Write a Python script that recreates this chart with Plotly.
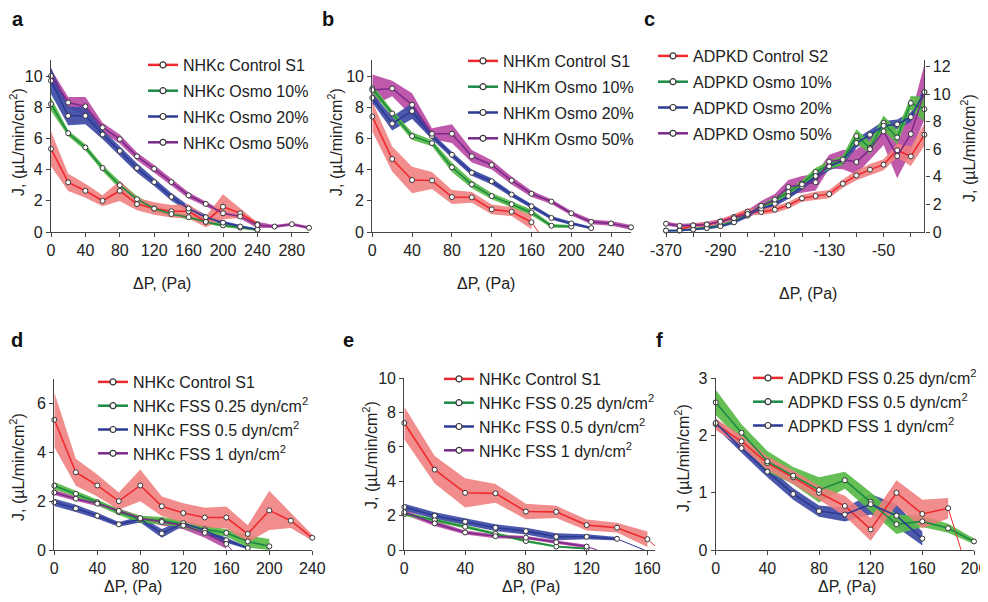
import plotly.graph_objects as go

# ---- data ----
dp_pos = [0, 20, 40, 60, 80, 100, 120, 140, 160, 180, 200, 220, 240, 260, 280, 300]
dp_neg = [-370, -350, -330, -310, -290, -270, -250, -230, -210, -190,
          -170, -150, -130, -110, -90, -70, -50, -30, -10, 10]

# NHKc control S1 (panels a and d)
nhkc_ctrl = [5.33, 3.18, 2.64, 2.0, 2.64, 1.79, 1.51, 1.33, 1.33, 0.66, 1.62, 1.2, 0.5]
nhkc_ctrl_err = [1.12, 0.55, 0.45, 0.35, 0.65, 0.4, 0.4, 0.4, 0.45, 0.35, 0.8, 0.3, 0.12]
# NHKm control S1 (panels b and e)
nhkm_ctrl = [7.4, 4.68, 3.33, 3.3, 2.24, 2.22, 1.45, 1.3, 0.63]
nhkm_ctrl_err = [0.95, 0.8, 0.85, 0.55, 0.45, 0.35, 0.32, 0.28, 0.45]

# a
a_osmo10 = [8.2, 6.33, 5.42, 4.1, 3.0, 2.1, 1.5, 1.15, 0.95, 0.65, 0.42, 0.28, 0.15]
a_osmo10_err = [0.42, 0.2, 0.2, 0.2, 0.25, 0.2, 0.2, 0.15, 0.15, 0.12, 0.1, 0.1, 0.08]
a_osmo20 = [9.7, 7.45, 7.45, 6.25, 5.2, 4.1, 3.2, 2.25, 1.5, 0.95, 0.6, 0.35, 0.15]
a_osmo20_err = [0.85, 0.6, 0.55, 0.3, 0.3, 0.3, 0.25, 0.25, 0.2, 0.15, 0.12, 0.1, 0.08]
a_osmo50 = [10.0, 8.3, 8.05, 6.7, 5.95, 4.85, 4.05, 3.2, 2.35, 1.8, 1.2, 1.0, 0.45, 0.35, 0.5, 0.27]
a_osmo50_err = [0.45, 0.35, 0.6, 0.3, 0.3, 0.25, 0.25, 0.2, 0.2, 0.15, 0.15, 0.15, 0.2, 0.1, 0.1, 0.1]

# b
b_osmo10 = [9.2, 7.6, 6.15, 5.7, 4.15, 3.05, 2.3, 1.78, 1.25, 0.4, 0.35]
b_osmo10_err = [0.25, 0.2, 0.25, 0.2, 0.3, 0.25, 0.2, 0.2, 0.2, 0.12, 0.1]
b_osmo20 = [8.6, 6.95, 7.75, 6.15, 4.95, 3.8, 3.25, 2.4, 1.65, 0.9, 0.55, 0.25]
b_osmo20_err = [0.3, 0.45, 0.5, 0.2, 0.2, 0.2, 0.2, 0.15, 0.15, 0.12, 0.1, 0.08]
b_osmo50 = [9.1, 9.2, 8.15, 6.3, 6.3, 4.85, 4.3, 3.3, 2.45, 1.95, 1.2, 0.65, 0.55, 0.3]
b_osmo50_err = [1.0, 0.5, 0.75, 0.35, 0.6, 0.4, 0.3, 0.25, 0.2, 0.15, 0.15, 0.15, 0.15, 0.15]

# c (ADPKD, negative pressure); control starts at -350
c_ctrl = [0.17, 0.48, 0.53, 0.77, 1.09, 1.47, 1.45, 1.62, 1.93, 2.44, 2.61, 2.75, 3.5, 4.1, 4.52, 4.88, 5.92, 5.48, 7.05]
c_ctrl_err = [0.1, 0.12, 0.15, 0.15, 0.2, 0.25, 0.2, 0.25, 0.25, 0.25, 0.3, 0.3, 0.3, 0.35, 0.4, 0.4, 0.5, 0.7, 0.8]
c_osmo10 = [0.1, 0.12, 0.22, 0.3, 0.46, 0.75, 1.3, 1.85, 2.3, 2.9, 3.5, 4.35, 4.85, 5.2, 6.95, 6.1, 7.9, 6.85, 9.35, 8.9]
c_osmo10_err = [0.05, 0.05, 0.08, 0.1, 0.1, 0.12, 0.15, 0.15, 0.2, 0.2, 0.25, 0.3, 0.3, 0.35, 0.5, 0.45, 0.55, 0.5, 0.5, 0.9]
c_osmo20 = [0.1, 0.1, 0.18, 0.28, 0.42, 0.7, 1.2, 1.7, 2.05, 2.6, 3.3, 4.05, 4.76, 5.15, 6.45, 7.05, 7.7, 7.8, 8.33, 10.14]
c_osmo20_err = [0.05, 0.05, 0.08, 0.1, 0.1, 0.12, 0.15, 0.15, 0.2, 0.2, 0.25, 0.25, 0.3, 0.3, 0.35, 0.35, 0.35, 0.35, 0.35, 0.3]
c_osmo50 = [0.6, 0.45, 0.48, 0.55, 0.75, 1.0, 1.3, 1.9, 2.35, 3.26, 3.45, 3.6, 5.1, 5.25, 5.07, 6.0, 7.3, 5.5, 7.1, 10.14]
c_osmo50_err = [0.15, 0.15, 0.15, 0.2, 0.2, 0.25, 0.3, 0.35, 0.4, 0.5, 0.6, 0.6, 0.5, 0.7, 0.9, 0.8, 1.0, 1.6, 1.3, 2.0]

# d
d_fss025 = [2.63, 2.3, 1.95, 1.55, 1.25, 1.2, 1.05, 0.85, 0.7, 0.35, 0.15]
d_fss025_err = [0.15, 0.12, 0.12, 0.12, 0.15, 0.15, 0.15, 0.15, 0.15, 0.25, 0.3]
d_fss05 = [1.95, 1.7, 1.4, 1.05, 1.25, 0.68, 1.1, 0.8, 0.4, 0.08]
d_fss05_err = [0.15, 0.15, 0.12, 0.1, 0.12, 0.18, 0.12, 0.1, 0.1, 0.05]
d_fss1 = [2.35, 2.1, 1.9, 1.6, 1.3, 1.15, 1.0, 0.7, 0.25]
d_fss1_err = [0.1, 0.1, 0.1, 0.1, 0.1, 0.15, 0.15, 0.2, 0.2]

# e
e_fss025 = [2.1, 1.75, 1.35, 0.95, 0.52, 0.2, 0.08]
e_fss025_err = [0.12, 0.1, 0.1, 0.08, 0.08, 0.06, 0.05]
e_fss05 = [2.5, 2.0, 1.65, 1.3, 1.1, 0.77, 0.77, 0.65]
e_fss05_err = [0.2, 0.2, 0.2, 0.2, 0.2, 0.2, 0.15, 0.1]
e_fss1 = [2.2, 1.55, 1.02, 0.8, 0.72, 0.45, 0.2]
e_fss1_err = [0.15, 0.15, 0.12, 0.12, 0.1, 0.1, 0.1]

# f
f_fss025 = [2.2, 1.9, 1.52, 1.27, 1.0, 0.77, 0.36, 1.0, 0.63, 0.73]
f_fss025_err = [0.1, 0.1, 0.12, 0.12, 0.12, 0.18, 0.2, 0.22, 0.25, 0.18]
f_fss05 = [2.58, 2.05, 1.55, 1.3, 1.05, 1.22, 0.84, 0.45, 0.5, 0.38, 0.15]
f_fss05_err = [0.22, 0.15, 0.18, 0.15, 0.22, 0.15, 0.17, 0.17, 0.1, 0.08, 0.05]
f_fss1 = [2.22, 1.78, 1.37, 0.98, 0.68, 0.62, 0.8, 0.6, 0.2]
f_fss1_err = [0.08, 0.08, 0.1, 0.1, 0.1, 0.12, 0.18, 0.2, 0.12]

# x where the thin trailing line reaches zero
b_ctrl_tail = 167
d_fss1_tail = 165
e_ctrl_tail = 168
e_fss05_tail = 158
e_fss1_tail = 127
f_fss025_tail = 190

c_ticks = [-370, -290, -210, -130, -50]

# ---- styling ----
RED = ('#EE2A2F', 'rgba(240,125,125,0.88)')
GREEN = ('#1B8A44', 'rgba(88,186,70,0.92)')
BLUE = ('#2D3A96', 'rgba(60,74,165,0.92)')
PURPLE = ('#7A2A8A', 'rgba(182,66,160,0.88)')
FONT = 'Liberation Sans, Arial, sans-serif'
TXT = '#222'
# the page body has an 8px margin, so the figure is drawn 8px in and made that much smaller
OFF = 8
W, H = 988 - OFF, 602 - OFF

fig = go.Figure()


def px_x(p):
    return (p - OFF) / W


def px_y(p):
    return 1 - (p - OFF) / H


def band(ax, x, y, err, col):
    hi = [v + e for v, e in zip(y, err)]
    lo = [max(v - e, 0) for v, e in zip(y, err)]
    fig.add_trace(go.Scatter(x=x + x[::-1], y=hi + lo[::-1], fill='toself',
                             fillcolor=col[1], line=dict(width=0), mode='lines',
                             hoverinfo='skip', showlegend=False,
                             xaxis='x' + ax, yaxis='y' + ax))


def line(ax, x, y, col, tail=None):
    if tail is not None:
        fig.add_trace(go.Scatter(x=[x[-1], tail], y=[y[-1], 0], mode='lines',
                                 line=dict(color=col[0], width=1), showlegend=False,
                                 xaxis='x' + ax, yaxis='y' + ax))
    fig.add_trace(go.Scatter(x=x, y=y, mode='lines+markers', cliponaxis=False,
                             line=dict(color=col[0], width=1.6),
                             marker=dict(size=5, color='white', line=dict(color='#333', width=1)),
                             showlegend=False, xaxis='x' + ax, yaxis='y' + ax))


def legend_item(ax, name, col, leg):
    fig.add_trace(go.Scatter(x=[None], y=[None], mode='lines+markers', name=name,
                             line=dict(color=col[0], width=2.5),
                             marker=dict(size=6, color='white', line=dict(color='#333', width=1.2)),
                             legend=leg, legendgroup=leg + name,
                             xaxis='x' + ax, yaxis='y' + ax))


def xs_for(xs, y):
    # positive-pressure series start at 0; negative-pressure series end at the last value
    if xs is dp_pos:
        return xs[:len(y)]
    return xs[len(xs) - len(y):]


panels = [
    ('', dp_pos, [
        (nhkc_ctrl, nhkc_ctrl_err, RED, None, 'NHKc Control S1'),
        (a_osmo10, a_osmo10_err, GREEN, None, 'NHKc Osmo 10%'),
        (a_osmo20, a_osmo20_err, BLUE, None, 'NHKc Osmo 20%'),
        (a_osmo50, a_osmo50_err, PURPLE, None, 'NHKc Osmo 50%')], 'legend'),
    ('2', dp_pos, [
        (nhkm_ctrl, nhkm_ctrl_err, RED, b_ctrl_tail, 'NHKm Control S1'),
        (b_osmo10, b_osmo10_err, GREEN, None, 'NHKm Osmo 10%'),
        (b_osmo20, b_osmo20_err, BLUE, None, 'NHKm Osmo 20%'),
        (b_osmo50, b_osmo50_err, PURPLE, None, 'NHKm Osmo 50%')], 'legend2'),
    ('3', dp_neg, [
        (c_ctrl, c_ctrl_err, RED, None, 'ADPKD Control S2'),
        (c_osmo10, c_osmo10_err, GREEN, None, 'ADPKD Osmo 10%'),
        (c_osmo20, c_osmo20_err, BLUE, None, 'ADPKD Osmo 20%'),
        (c_osmo50, c_osmo50_err, PURPLE, None, 'ADPKD Osmo 50%')], 'legend3'),
    ('4', dp_pos, [
        (nhkc_ctrl, nhkc_ctrl_err, RED, None, 'NHKc Control S1'),
        (d_fss025, d_fss025_err, GREEN, None, 'NHKc FSS 0.25 dyn/cm<sup>2</sup>'),
        (d_fss05, d_fss05_err, BLUE, None, 'NHKc FSS 0.5 dyn/cm<sup>2</sup>'),
        (d_fss1, d_fss1_err, PURPLE, d_fss1_tail, 'NHKc FSS 1 dyn/cm<sup>2</sup>')], 'legend4'),
    ('5', dp_pos, [
        (nhkm_ctrl, nhkm_ctrl_err, RED, e_ctrl_tail, 'NHKc Control S1'),
        (e_fss025, e_fss025_err, GREEN, None, 'NHKc FSS 0.25 dyn/cm<sup>2</sup>'),
        (e_fss05, e_fss05_err, BLUE, e_fss05_tail, 'NHKc FSS 0.5 dyn/cm<sup>2</sup>'),
        (e_fss1, e_fss1_err, PURPLE, e_fss1_tail, 'NHKc FSS 1 dyn/cm<sup>2</sup>')], 'legend5'),
    ('6', dp_pos, [
        (f_fss025, f_fss025_err, RED, f_fss025_tail, 'ADPKD FSS 0.25 dyn/cm<sup>2</sup>'),
        (f_fss05, f_fss05_err, GREEN, None, 'ADPKD FSS 0.5 dyn/cm<sup>2</sup>'),
        (f_fss1, f_fss1_err, BLUE, None, 'ADPKD FSS 1 dyn/cm<sup>2</sup>')], 'legend6'),
]

for ax, xs, series, leg in panels:
    for y, err, col, tail, name in reversed(series):
        band(ax, xs_for(xs, y), y, err, col)
    for y, err, col, tail, name in series:
        line(ax, xs_for(xs, y), y, col, tail)
    for y, err, col, tail, name in series:
        legend_item(ax, name, col, leg)

# axes: suffix, x px span, x range, x ticks, y px span (bottom, top), y range, y ticks, y side
axes = [
    ('', (51, 309), [0, 300], [0, 40, 80, 120, 160, 200, 240, 280], (232, 60.4), [0, 11], [0, 2, 4, 6, 8, 10], 'left'),
    ('2', (372.3, 631), [0, 260], [0, 40, 80, 120, 160, 200, 240], (232, 60.4), [0, 11], [0, 2, 4, 6, 8, 10], 'left'),
    ('3', (666, 924.4), [-370, 10], c_ticks, (232, 59.5), [0, 12.5], [0, 2, 4, 6, 8, 10, 12], 'right'),
    ('4', (54.3, 312.3), [0, 240], [0, 40, 80, 120, 160, 200, 240], (550, 378.9), [0, 7], [0, 2, 4, 6], 'left'),
    ('5', (404.3, 655), [0, 165], [0, 40, 80, 120, 160], (550, 378.3), [0, 10], [0, 2, 4, 6, 8, 10], 'left'),
    ('6', (715.7, 974), [0, 200], [0, 40, 80, 120, 160, 200], (550, 378.4), [0, 3], [0, 1, 2, 3], 'left'),
]
common = dict(showline=True, linecolor='#444', linewidth=1.3, ticks='outside', ticklen=4,
              tickcolor='#444', showgrid=False, zeroline=False,
              tickfont=dict(family=FONT, size=16, color=TXT))
lay = {}
for ax, xp, xr, xt, yp, yr, yt, side in axes:
    lay['xaxis' + ax] = dict(domain=[px_x(xp[0]), px_x(xp[1])], range=xr, tickvals=xt,
                             anchor='y' + ax, **common)
    lay['yaxis' + ax] = dict(domain=[px_y(yp[0]), px_y(yp[1])], range=yr, tickvals=yt,
                             anchor='x' + ax, side=side, **common)
lay['xaxis3']['ticktext'] = [str(v) for v in c_ticks]
lay['xaxis3']['minor'] = dict(tickvals=[-330, -250, -170, -90, -10], ticks='outside',
                              ticklen=4, tickcolor='#444')

# legends: id, left px, top px, gap between rows
leg_pos = [('legend', 143, 48, 2), ('legend2', 463, 44, 2), ('legend3', 653, 39, 2),
           ('legend4', 93, 365, 0), ('legend5', 439, 362, 0), ('legend6', 748, 361, 0)]
for lid, lx, ly, gap in leg_pos:
    lay[lid] = dict(x=px_x(lx), y=px_y(ly), xanchor='left', yanchor='top',
                    bgcolor='rgba(0,0,0,0)', borderwidth=0, tracegroupgap=gap,
                    itemclick=False, itemdoubleclick=False,
                    font=dict(family=FONT, size=16, color=TXT))

ann = []
for lab, lx, ly in [('a', 18, 19), ('b', 328, 19), ('c', 649, 19),
                    ('d', 17, 340), ('e', 348, 340), ('f', 659, 340)]:
    ann.append(dict(text='<b>%s</b>' % lab, x=px_x(lx), y=px_y(ly), xref='paper', yref='paper',
                    xanchor='center', yanchor='middle', showarrow=False,
                    font=dict(family=FONT, size=20, color='#111')))
for tx, ty in [(162, 283), (486, 283), (808, 294), (133, 586), (531, 586), (847, 586)]:
    ann.append(dict(text='\u0394P, (Pa)', x=px_x(tx), y=px_y(ty), xref='paper', yref='paper',
                    xanchor='center', yanchor='middle', showarrow=False,
                    font=dict(family=FONT, size=16, color=TXT)))
for tx, ty in [(17, 142), (335, 142), (968, 148), (17, 467), (370, 455), (682, 458)]:
    ann.append(dict(text='J, (\u00b5L/min/cm<sup>2</sup>)', x=px_x(tx), y=px_y(ty),
                    xref='paper', yref='paper', xanchor='center', yanchor='middle',
                    textangle=-90, showarrow=False,
                    font=dict(family=FONT, size=16, color=TXT)))

fig.update_layout(width=W, height=H, margin=dict(l=0, r=0, t=0, b=0, pad=0, autoexpand=False),
                  paper_bgcolor='white', plot_bgcolor='white',
                  annotations=ann, **lay)

fig.write_html("out.html")
